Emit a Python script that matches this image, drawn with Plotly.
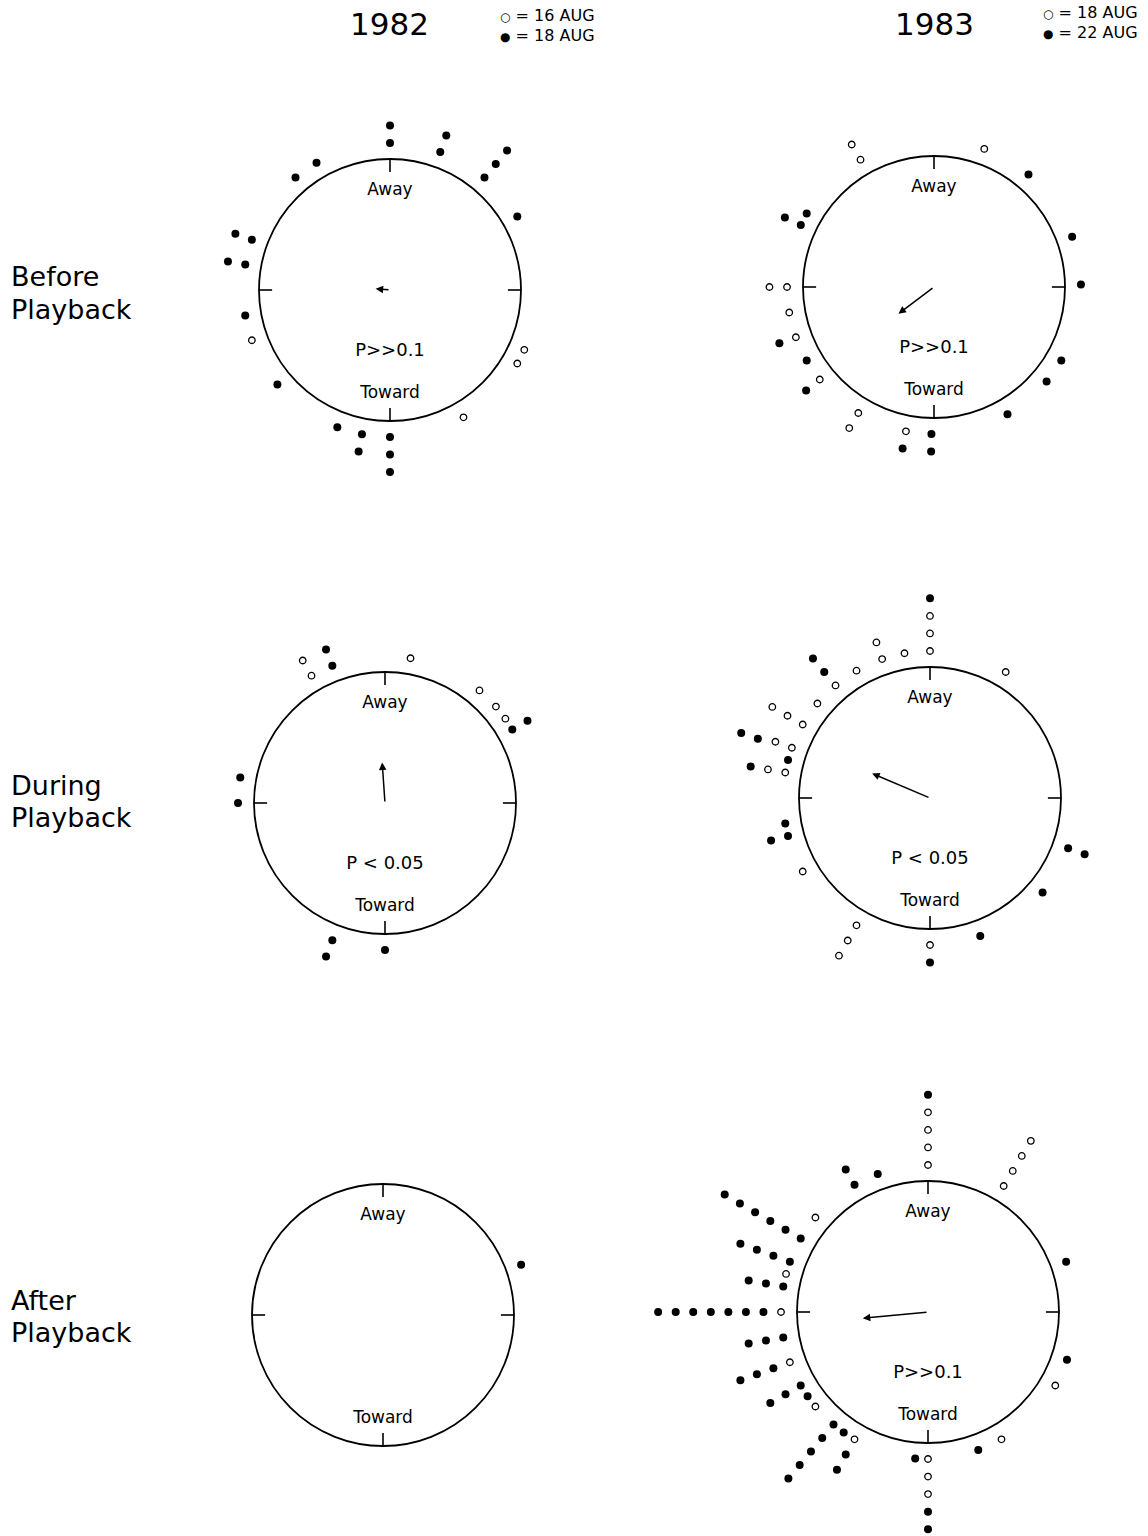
import math
import plotly.graph_objects as go

# the page's default body margin is removed (post_script) so paper == window
OFF = 0
WF, HF = 1148, 1536
FONT = "DejaVu Sans"

YEARS = ["1982", "1983"]
PHASE_LINE1 = ["Before", "During", "After"]
PHASE_LINE2 = ["Playback", "Playback", "Playback"]
OPEN_DATES = ["16 AUG", "18 AUG"]
FILLED_DATES = ["18 AUG", "22 AUG"]
DIRECTION_LABELS = ["Away", "Toward"]
TICK_DEG = [0, 90, 180, 270]

# ---- data: bearings (deg clockwise from "Away") and stacking level of each bird ----
# 1982, before playback
B82_OPEN_DEG = [250, 114, 120, 150]
B82_OPEN_LVL = [1, 1, 1, 1]
B82_FILL_DEG = [0, 0, 20, 20, 40, 40, 40, 320, 330, 60, 280, 280, 290, 290, 260, 230,
                201, 191, 191, 180, 180, 180]
B82_FILL_LVL = [1, 2, 1, 2, 1, 2, 3, 1, 1, 1, 1, 2, 1, 2, 1, 1,
                1, 1, 2, 1, 2, 3]

# 1983, before playback
B83_OPEN_DEG = [330, 330, 20, 270, 270, 260, 250, 231, 211, 211, 191]
B83_OPEN_LVL = [1, 2, 1, 1, 2, 1, 1, 1, 1, 2, 1]
B83_FILL_DEG = [40, 295, 295, 300, 70, 89, 250, 240, 231, 191, 181, 181, 120, 130, 150]
B83_FILL_LVL = [1, 1, 2, 1, 1, 1, 2, 1, 2, 2, 1, 2, 1, 1, 1]

# 1982, during playback
D82_OPEN_DEG = [330, 330, 10, 40, 49, 55]
D82_OPEN_LVL = [1, 2, 1, 1, 1, 1]
D82_FILL_DEG = [339, 339, 60, 60, 280, 270, 201, 201, 180]
D82_FILL_LVL = [1, 2, 1, 2, 1, 1, 1, 2, 1]

# 1983, during playback
D83_OPEN_DEG = [0, 0, 0, 341, 341, 350, 31, 330, 320, 310, 300, 300, 300,
                290, 290, 280, 280, 240, 210, 210, 210, 180]
D83_OPEN_LVL = [1, 2, 3, 1, 2, 1, 1, 1, 1, 1, 1, 2, 3,
                1, 2, 1, 2, 1, 1, 2, 3, 1]
D83_FILL_DEG = [0, 320, 320, 289, 289, 285, 280, 260, 255, 255, 110, 110, 130, 160, 180]
D83_FILL_LVL = [4, 2, 3, 3, 4, 1, 3, 1, 1, 2, 1, 2, 1, 1, 2]

# 1982, after playback
A82_OPEN_DEG = []
A82_OPEN_LVL = []
A82_FILL_DEG = [70]
A82_FILL_LVL = [1]

# 1983, after playback
A83_OPEN_DEG = [0, 0, 0, 0, 31, 31, 31, 31, 310, 285, 270, 250, 230, 210,
                180, 180, 180, 150, 120]
A83_OPEN_LVL = [1, 2, 3, 4, 1, 2, 3, 4, 1, 1, 1, 1, 1, 1,
                1, 2, 3, 1, 1]
A83_FILL_DEG = [0, 330, 330, 340,
                300, 300, 300, 300, 300, 300,
                290, 290, 290, 290,
                280, 280, 280,
                270, 270, 270, 270, 270, 270, 270,
                260, 260, 260,
                250, 250, 250,
                240, 240, 240,
                235, 220, 220, 220, 220, 220, 215,
                210, 210, 185, 180, 180, 160, 109, 70]
A83_FILL_LVL = [5, 1, 2, 1,
                1, 2, 3, 4, 5, 6,
                1, 2, 3, 4,
                1, 2, 3,
                2, 3, 4, 5, 6, 7, 8,
                1, 2, 3,
                2, 3, 4,
                1, 2, 3,
                1, 1, 2, 3, 4, 5, 1,
                2, 3, 1, 4, 5, 1, 1, 1]

# mean vector (direction in deg, length as fraction of circle radius)
MEAN_DEG = [275, 233, 356, 293, None, 264.5]
MEAN_LEN = [0.11, 0.34, 0.31, 0.48, None, 0.50]
P_LABELS = ["P>>0.1", "P>>0.1", "P < 0.05", "P < 0.05", "", "P>>0.1"]

OPEN_DEG = [B82_OPEN_DEG, B83_OPEN_DEG, D82_OPEN_DEG, D83_OPEN_DEG, A82_OPEN_DEG, A83_OPEN_DEG]
OPEN_LVL = [B82_OPEN_LVL, B83_OPEN_LVL, D82_OPEN_LVL, D83_OPEN_LVL, A82_OPEN_LVL, A83_OPEN_LVL]
FILL_DEG = [B82_FILL_DEG, B83_FILL_DEG, D82_FILL_DEG, D83_FILL_DEG, A82_FILL_DEG, A83_FILL_DEG]
FILL_LVL = [B82_FILL_LVL, B83_FILL_LVL, D82_FILL_LVL, D83_FILL_LVL, A82_FILL_LVL, A83_FILL_LVL]

# ---- layout constants (page pixel coordinates) ----
R_PX = 131
SPAN = 300
CENTERS = [(390, 290), (934, 287), (385, 803), (930, 798), (383, 1315), (928, 1312)]
RING0, RING_STEP = 1.122, 0.134
TICK_IN = 0.1


def px(X):
    return (X - OFF) / WF


def py(Y):
    return 1 - (Y - OFF) / HF


def to_xy(degs, radii):
    xs = [r * math.sin(math.radians(d)) for d, r in zip(degs, radii)]
    ys = [r * math.cos(math.radians(d)) for d, r in zip(degs, radii)]
    return xs, ys


def lvl_to_r(levels):
    return [RING0 + RING_STEP * (k - 1) for k in levels]


fig = go.Figure()
axes_layout = {}
shapes = []
annotations = []

for i in range(6):
    n = "" if i == 0 else str(i + 1)
    xref, yref = "x" + n, "y" + n
    cx, cy = CENTERS[i]
    left = max(cx - SPAN, OFF + 1)
    right = min(cx + SPAN, OFF + WF - 1)
    top = max(cy - SPAN, OFF + 1)
    bottom = min(cy + SPAN, OFF + HF - 1)
    axes_layout["xaxis" + n] = dict(domain=[px(left), px(right)],
                                   range=[(left - cx) / R_PX, (right - cx) / R_PX],
                                   visible=False, fixedrange=True, anchor=yref)
    axes_layout["yaxis" + n] = dict(domain=[py(bottom), py(top)],
                                   range=[(cy - bottom) / R_PX, (cy - top) / R_PX],
                                   visible=False, fixedrange=True, anchor=xref)

    ox, oy = to_xy(OPEN_DEG[i], lvl_to_r(OPEN_LVL[i]))
    fig.add_trace(go.Scatter(
        x=ox, y=oy, mode="markers", xaxis=xref, yaxis=yref,
        marker=dict(symbol="circle-open", size=6.5, color="black", line=dict(width=1.3)),
        hoverinfo="skip"))
    fx, fy = to_xy(FILL_DEG[i], lvl_to_r(FILL_LVL[i]))
    fig.add_trace(go.Scatter(
        x=fx, y=fy, mode="markers", xaxis=xref, yaxis=yref,
        marker=dict(symbol="circle", size=8, color="black"),
        hoverinfo="skip"))

    # circle and tick marks
    shapes.append(dict(type="circle", xref=xref, yref=yref, x0=-1, y0=-1, x1=1, y1=1,
                       line=dict(color="black", width=1.8)))
    tx_out, ty_out = to_xy(TICK_DEG, [1] * 4)
    tx_in, ty_in = to_xy(TICK_DEG, [1 - TICK_IN] * 4)
    for a, b, c, d in zip(tx_in, ty_in, tx_out, ty_out):
        shapes.append(dict(type="line", xref=xref, yref=yref, x0=a, y0=b, x1=c, y1=d,
                           line=dict(color="black", width=1.6)))

    # labels inside circle
    fig.add_trace(go.Scatter(
        x=[0, 0, 0], y=[0.755, -0.47, -0.79], mode="text", xaxis=xref, yaxis=yref,
        text=[DIRECTION_LABELS[0], P_LABELS[i], DIRECTION_LABELS[1]],
        textfont=dict(family=FONT, size=[17, 18, 17], color="black"),
        hoverinfo="skip"))

    # mean vector
    if MEAN_DEG[i] is not None:
        hx, hy = to_xy([MEAN_DEG[i]], [MEAN_LEN[i]])
        annotations.append(dict(x=hx[0], y=hy[0], ax=0, ay=0, xref=xref, yref=yref,
                                axref=xref, ayref=yref, text="", showarrow=True,
                                arrowhead=2, arrowsize=1, arrowwidth=1.5,
                                arrowcolor="black", standoff=0, startstandoff=0))

# year titles and date keys
for year, cx in zip(YEARS, [389, 934]):
    annotations.append(dict(x=px(cx), y=py(24), xref="paper", yref="paper",
                            text=year, showarrow=False, xanchor="center", yanchor="middle",
                            font=dict(family=FONT, size=31, color="black")))
for od, fd, xr, y1, y2 in zip(OPEN_DATES, FILLED_DATES, [597, 1140], [15, 13], [35, 32]):
    for sym, txt, yy in (("○", od, y1), ("●", fd, y2)):
        annotations.append(dict(
            x=px(xr), y=py(yy), xref="paper", yref="paper", showarrow=False,
            xanchor="right", yanchor="middle",
            text=f"<span style='font-size:12px'>{sym}</span> = {txt}",
            font=dict(family=FONT, size=16, color="black")))

# row labels
for l1, l2, cy in zip(PHASE_LINE1, PHASE_LINE2, [293, 801, 1316]):
    for txt, yy in ((l1, cy - 16), (l2, cy + 16)):
        annotations.append(dict(x=px(9), y=py(yy), xref="paper", yref="paper",
                                text=txt, showarrow=False, xanchor="left", yanchor="middle",
                                align="left", font=dict(family=FONT, size=27, color="black")))

fig.update_layout(
    width=WF, height=HF, autosize=False,
    margin=dict(l=0, r=0, t=0, b=0, autoexpand=False),
    paper_bgcolor="white", plot_bgcolor="rgba(0,0,0,0)",
    showlegend=False,
    shapes=shapes,
    annotations=annotations,
    font=dict(family=FONT, color="black"),
    **axes_layout,
)

fig.write_html("out.html", config={"displayModeBar": False},
               post_script="document.body.style.margin='0px';")
